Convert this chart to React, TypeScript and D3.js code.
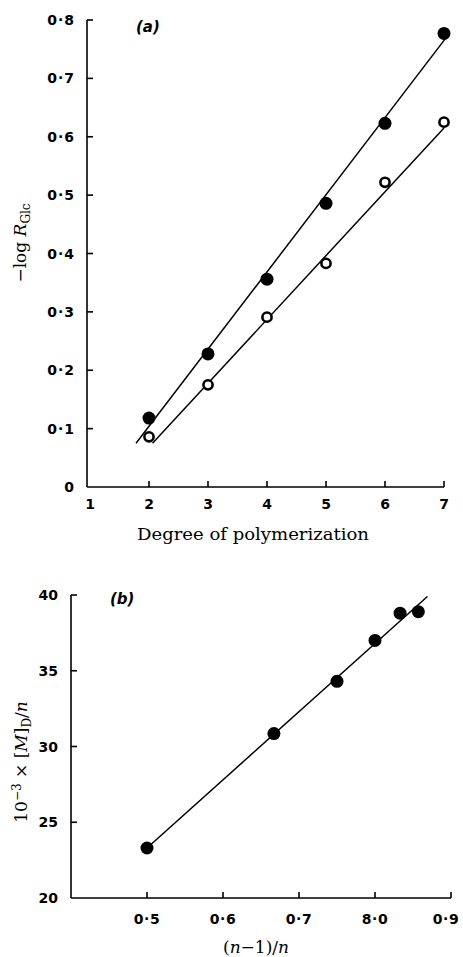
import React from "react";
import * as d3 from "d3";

// Panel (a)
const dpFilled = [2, 3, 4, 5, 6, 7];
const logRFilled = [0.118, 0.228, 0.356, 0.486, 0.623, 0.777];
const dpOpen = [2, 3, 4, 5, 6, 7];
const logROpen = [0.086, 0.175, 0.291, 0.383, 0.522, 0.625];
const fitFilledA: [number, number][] = [[1.78, 0.075], [7.03, 0.769]];
const fitOpenA: [number, number][] = [[2.06, 0.075], [7.0, 0.615]];
const xTicksA = [2, 3, 4, 5, 6, 7];
const xTickLabelsA = ["1", "2", "3", "4", "5", "6", "7"];
const yTicksA = [0.1, 0.2, 0.3, 0.4, 0.5, 0.6, 0.7, 0.8];
const yTickLabelsA = ["0", "0·1", "0·2", "0·3", "0·4", "0·5", "0·6", "0·7", "0·8"];

// Panel (b)
const ratioB = [0.5, 0.667, 0.75, 0.8, 0.833, 0.857];
const mdB = [23.3, 30.85, 34.3, 37.0, 38.8, 38.9];
const fitB: [number, number][] = [[0.5, 23.3], [0.869, 39.9]];
const xTicksB = [0.5, 0.6, 0.7, 0.8, 0.9];
const xTickLabelsB = ["0·5", "0·6", "0·7", "8·0", "0·9"];
const yTicksB = [25, 30, 35, 40];
const yTickValsB = [20, 25, 30, 35, 40];
const yTickLabelsB = ["20", "25", "30", "35", "40"];

const tickFont = "'DejaVu Sans', sans-serif";
const serif = "'DejaVu Serif', serif";

export default function App() {
  const xA = d3.scaleLinear().domain([1, 7]).range([90, 444]);
  const yA = d3.scaleLinear().domain([0, 0.8]).range([487, 20]);
  const xB = d3.scaleLinear().domain([0.4, 0.9]).range([71, 451]);
  const yB = d3.scaleLinear().domain([20, 40]).range([898, 595]);

  const lineA = d3.line<[number, number]>().x((d) => xA(d[0])).y((d) => yA(d[1]));
  const lineB = d3.line<[number, number]>().x((d) => xB(d[0])).y((d) => yB(d[1]));

  const axisX0A = 87;
  const axisX0B = 71;
  const tickLen = 6;

  return (
    <svg
      width={463}
      height={957}
      style={{ position: "absolute", left: 0, top: 0, background: "#fff" }}
    >
      <rect width={463} height={957} fill="#fff" />
      {/* ===== Panel (a) ===== */}
      <g stroke="#000" strokeWidth={1.6} fill="none">
        <line x1={axisX0A} y1={yA(0.8)} x2={axisX0A} y2={yA(0)} />
        <line x1={axisX0A} y1={yA(0)} x2={xA(7)} y2={yA(0)} />
        {yTicksA.map((t) => (
          <line key={t} x1={axisX0A} y1={yA(t)} x2={axisX0A + tickLen} y2={yA(t)} />
        ))}
        {xTicksA.map((t) => (
          <line key={t} x1={xA(t)} y1={yA(0)} x2={xA(t)} y2={yA(0) - tickLen} />
        ))}
      </g>
      <g fontFamily={tickFont} fontWeight="bold" fontSize={14} fill="#000">
        {yTickLabelsA.map((l, i) => (
          <text key={l} x={75} y={yA(i / 10) + 5} textAnchor="end" letterSpacing={1}>
            {l}
          </text>
        ))}
        {xTickLabelsA.map((l, i) => (
          <text key={l} x={xA(i + 1)} y={509} textAnchor="middle">
            {l}
          </text>
        ))}
      </g>
      <text x={136} y={32} fontFamily={tickFont} fontWeight="bold" fontStyle="italic" fontSize={15}>
        (a)
      </text>
      <g stroke="#000" strokeWidth={1.5} fill="none">
        <path d={lineA(fitFilledA) || ""} />
        <path d={lineA(fitOpenA) || ""} />
      </g>
      {dpFilled.map((d, i) => (
        <circle key={"f" + d} cx={xA(d)} cy={yA(logRFilled[i])} r={6.5} fill="#000" />
      ))}
      {dpOpen.map((d, i) => (
        <circle
          key={"o" + d}
          cx={xA(d)}
          cy={yA(logROpen[i])}
          r={4.6}
          fill="#fff"
          stroke="#000"
          strokeWidth={2.6}
        />
      ))}
      <text
        x={253}
        y={540}
        textAnchor="middle"
        fontFamily={serif}
        fontSize={17}
        textLength={232}
        lengthAdjust="spacingAndGlyphs"
      >
        Degree of polymerization
      </text>
      <text
        transform="translate(26,243) rotate(-90)"
        textAnchor="middle"
        fontFamily={serif}
        fontSize={17}
      >
        −log <tspan fontStyle="italic">R</tspan>
        <tspan fontSize={12} dy={4}>Glc</tspan>
      </text>

      {/* ===== Panel (b) ===== */}
      <g stroke="#000" strokeWidth={1.6} fill="none">
        <line x1={axisX0B} y1={yB(40)} x2={axisX0B} y2={yB(20)} />
        <line x1={axisX0B} y1={yB(20)} x2={xB(0.9)} y2={yB(20)} />
        {yTicksB.map((t) => (
          <line key={t} x1={axisX0B} y1={yB(t)} x2={axisX0B + tickLen} y2={yB(t)} />
        ))}
        {xTicksB.map((t) => (
          <line key={t} x1={xB(t)} y1={yB(20)} x2={xB(t)} y2={yB(20) - tickLen} />
        ))}
      </g>
      <g fontFamily={tickFont} fontWeight="bold" fontSize={14} fill="#000">
        {yTickLabelsB.map((l, i) => (
          <text key={l} x={58} y={yB(yTickValsB[i]) + 5} textAnchor="end">
            {l}
          </text>
        ))}
        {xTickLabelsB.map((l, i) => (
          <text
            key={l}
            x={Math.min(xB(xTicksB[i]), 446)}
            y={924}
            textAnchor="middle"
            letterSpacing={0.5}
          >
            {l}
          </text>
        ))}
      </g>
      <text x={110} y={604} fontFamily={tickFont} fontWeight="bold" fontStyle="italic" fontSize={15}>
        (b)
      </text>
      <path d={lineB(fitB) || ""} stroke="#000" strokeWidth={1.5} fill="none" />
      {ratioB.map((r, i) => (
        <circle key={"b" + i} cx={xB(r)} cy={yB(mdB[i])} r={6.5} fill="#000" />
      ))}
      <text
        x={256}
        y={953}
        textAnchor="middle"
        fontFamily={serif}
        fontSize={17}
      >
        (<tspan fontStyle="italic">n</tspan>−1)/<tspan fontStyle="italic">n</tspan>
      </text>
      <text
        transform="translate(27,762) rotate(-90)"
        textAnchor="middle"
        fontFamily={serif}
        fontSize={17}
      >
        10<tspan fontSize={12} dy={-6}>−3</tspan>
        <tspan dy={6}> × [</tspan>
        <tspan fontStyle="italic">M</tspan>
        <tspan>]</tspan>
        <tspan fontSize={12} dy={4}>D</tspan>
        <tspan dy={-4}>/</tspan>
        <tspan fontStyle="italic">n</tspan>
      </text>
    </svg>
  );
}
